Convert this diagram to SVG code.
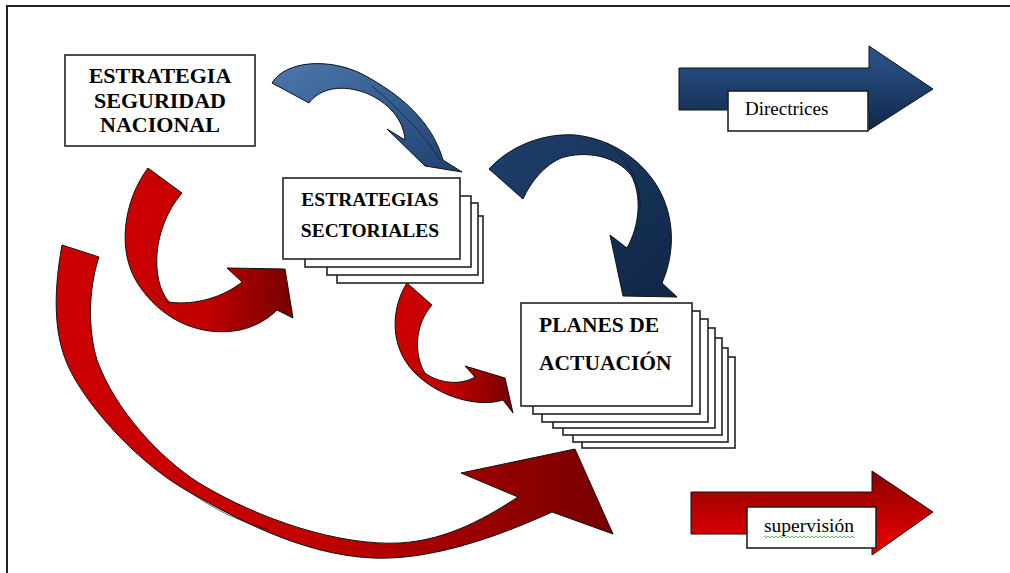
<svg xmlns="http://www.w3.org/2000/svg" width="1010" height="573" viewBox="0 0 1010 573">
<style>
.box{fill:#fff;stroke:#222;stroke-width:1.6}
.hd{font-family:"Liberation Serif","Times New Roman",serif;font-weight:bold;fill:#000}
.lbl{font-family:"Liberation Serif","Times New Roman",serif;font-weight:normal;fill:#000}
.arr{stroke:#111;stroke-width:1;stroke-linejoin:round}
.twist{fill:none;stroke:#111;stroke-width:0.8;opacity:0.7}
</style>
<defs>
<linearGradient id="gBlueFlat" x1="0" y1="0" x2="0" y2="1">
<stop offset="0" stop-color="#2c568c"/><stop offset="1" stop-color="#10284a"/>
</linearGradient>
<linearGradient id="gRedFlat" x1="0" y1="0" x2="0" y2="1">
<stop offset="0" stop-color="#8a0000"/><stop offset="1" stop-color="#f20000"/>
</linearGradient>
<linearGradient id="gBlue1" x1="0" y1="0" x2="1" y2="1">
<stop offset="0" stop-color="#4d78ad"/><stop offset="1" stop-color="#1d406f"/>
</linearGradient>
<linearGradient id="gBlue2" x1="0" y1="0" x2="1" y2="1">
<stop offset="0" stop-color="#1f3f6c"/><stop offset="1" stop-color="#0f2646"/>
</linearGradient>
<linearGradient id="gRedCurve" x1="0" y1="0" x2="1" y2="0">
<stop offset="0" stop-color="#cc0000"/><stop offset="0.45" stop-color="#c40000"/><stop offset="1" stop-color="#770000"/>
</linearGradient>
</defs>
<rect width="1010" height="573" fill="#fff"/>
<path d="M7,573 L7,6 L1010,6" fill="none" stroke="#222" stroke-width="2"/>

<g id="connectors">
<path id="c-esn-es" class="arr" fill="url(#gBlue1)" d="M272,83 C286,60 330,58 362,74 C402,95 432,122 443,160 L462,172 L425,166 L387,129 L405,140 C404,120 388,102 366,93 C342,84 320,88 309,103 Z"/>
<path class="twist" d="M372,86 C400,110 425,135 440,160"/>
<path id="c-esn-planes-blue" class="arr" fill="url(#gBlue2)" d="M489,169 C510,146 543,133 575,135 C615,139 650,165 664,200 C676,230 672,260 662,283 L677,297 L623,296 L610,235 L627,248 C640,225 642,195 631,175 C616,156 586,150 561,158 C545,165 531,181 523,199 Z"/>
<path class="twist" d="M606,142 C630,160 642,185 640,210"/>
<path id="c-esn-es-red" class="arr" fill="url(#gRedCurve)" d="M148,168 C124,200 116,250 138,284 C160,318 198,338 240,330 C258,326 270,317 277,310 L293,318 L285,269 L227,268 L242,282 C225,296 196,306 169,302 C150,280 152,228 182,193 Z"/>
<path class="twist" d="M150,290 C160,298 165,302 170,304"/>
<path id="c-es-planes" class="arr" fill="url(#gRedCurve)" d="M407,283 C392,306 388,345 414,372 C438,397 478,408 503,400 L513,413 L505,378 L465,366 L475,377 C460,386 438,383 425,373 C414,356 414,325 432,305 Z"/>
<path class="twist" d="M414,372 C420,376 423,375 426,374"/>
<path id="c-esn-planes-red" class="arr" fill="url(#gRedCurve)" d="M62,245 C52,300 55,340 70,370 C90,410 140,465 191,493 C230,515 300,555 373,558 C420,560 480,545 552,512 L613,534 L575,449 L461,473 L518,497 C490,515 450,540 400,543 C340,546 260,520 199,483 C160,458 115,410 97,360 C88,330 88,290 99,257 Z"/>
<path class="twist" d="M191,493 C215,510 240,522 270,530"/>
</g>

<g id="node-esn">
<rect class="box" x="65" y="55" width="190" height="91"/>
<text class="hd" font-size="22" text-anchor="middle" x="160" y="83">ESTRATEGIA</text>
<text class="hd" font-size="22" text-anchor="middle" x="160" y="108">SEGURIDAD</text>
<text class="hd" font-size="22" text-anchor="middle" x="160" y="132">NACIONAL</text>
</g>

<g id="node-es">
<rect class="box" x="337" y="216" width="146" height="67"/>
<rect class="box" x="327" y="203" width="151" height="72"/>
<rect class="box" x="305" y="196" width="166" height="71"/>
<rect class="box" x="283" y="178" width="177" height="81"/>
<text class="hd" font-size="19.5" text-anchor="middle" x="370" y="206">ESTRATEGIAS</text>
<text class="hd" font-size="19.5" text-anchor="middle" x="370" y="237">SECTORIALES</text>
</g>

<g id="node-planes">
<rect class="box" x="582" y="357" width="153" height="91"/>
<rect class="box" x="573" y="348" width="155" height="94"/>
<rect class="box" x="563" y="338" width="159" height="97"/>
<rect class="box" x="553" y="328" width="162" height="100"/>
<rect class="box" x="542" y="319" width="166" height="103"/>
<rect class="box" x="533" y="311" width="167" height="103"/>
<rect class="box" x="521" y="303" width="171" height="103"/>
<text class="hd" font-size="21.5" x="539" y="332">PLANES DE</text>
<text class="hd" font-size="21.5" x="539" y="370">ACTUACIÓN</text>
</g>

<g id="legend-directrices">
<path class="arr" fill="url(#gBlueFlat)" d="M679,68 L869,68 L869,46 L933,89 L869,130 L869,110 L679,110 Z"/>
<rect class="box" x="728" y="91" width="140" height="40"/>
<text class="lbl" font-size="19" x="745" y="115">Directrices</text>
</g>

<g id="legend-supervision">
<path class="arr" fill="url(#gRedFlat)" d="M691,492 L872,492 L872,471 L933,512 L872,555 L872,534 L691,534 Z"/>
<rect class="box" x="747" y="507" width="129" height="41"/>
<text class="lbl" font-size="19.5" x="764" y="532">supervisión</text>
<path d="M764,536 l2,2 l2,-2 l2,2 l2,-2 l2,2 l2,-2 l2,2 l2,-2 l2,2 l2,-2 l2,2 l2,-2 l2,2 l2,-2 l2,2 l2,-2 l2,2 l2,-2 l2,2 l2,-2 l2,2 l2,-2 l2,2 l2,-2 l2,2 l2,-2 l2,2 l2,-2 l2,2 l2,-2 l2,2 l2,-2 l2,2 l2,-2 l2,2 l2,-2 l2,2 l2,-2 l2,2 l2,-2 l2,2 l2,-2 l2,2 l2,-2 l2,2" fill="none" stroke="#3fa03f" stroke-width="0.8"/>
</g>
</svg>
